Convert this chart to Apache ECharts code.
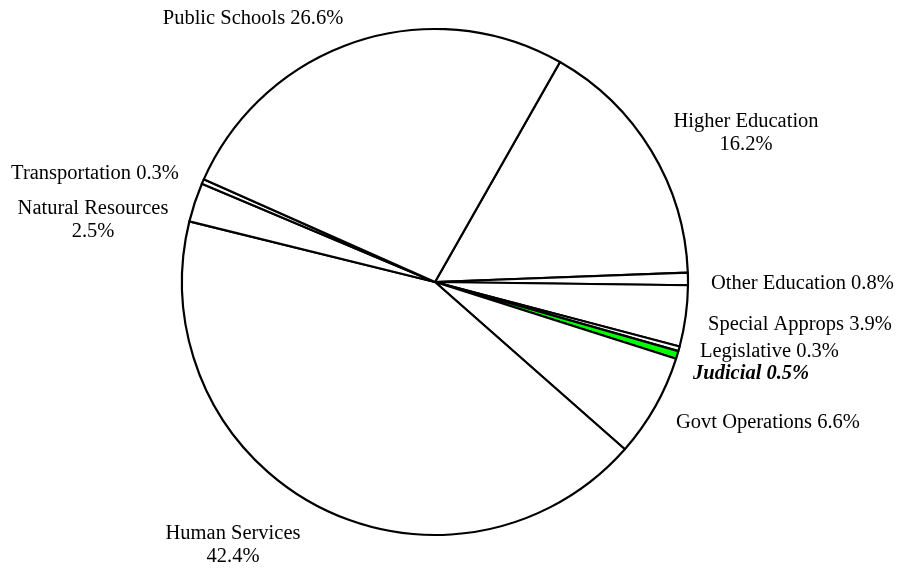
<!DOCTYPE html>
<html>
<head>
<meta charset="utf-8">
<script src="https://cdn.jsdelivr.net/npm/echarts@6/dist/echarts.min.js"></script>
<style>
  html, body { margin: 0; padding: 0; background: #ffffff; }
  #chart { width: 912px; height: 569px; }
</style>
</head>
<body>
<div id="chart"></div>
<script>
// Budget shares by area, listed clockwise starting from Higher Education
const categories = [
  'Higher Education', 'Other Education', 'Special Approps', 'Legislative',
  'Judicial', 'Govt Operations', 'Human Services', 'Natural Resources',
  'Transportation', 'Public Schools'
];
const shares = [16.2, 0.8, 3.9, 0.3, 0.5, 6.6, 42.4, 2.5, 0.3, 26.6];

// Label text lines for each slice (two-line labels are stacked)
const labelTexts = [
  'Higher Education\n16.2%', 'Other Education 0.8%', 'Special Approps 3.9%',
  'Legislative 0.3%', 'Judicial 0.5%', 'Govt Operations 6.6%',
  'Human Services\n42.4%', 'Natural Resources\n2.5%', 'Transportation 0.3%',
  'Public Schools 26.6%'
];

// Where each label sits on the page: [x, y, align]
const labelSpots = [
  [746, 133.5, 'center'],
  [711, 283.5, 'left'],
  [708, 324.5, 'left'],
  [700, 351.5, 'left'],
  [693, 373.5, 'left'],
  [676, 422.5, 'left'],
  [233, 545.5, 'center'],
  [93, 220.5, 'center'],
  [95, 173.5, 'center'],
  [253, 18.5, 'center']
];

const highlighted = 'Judicial';

const chart = echarts.init(document.getElementById('chart'), null, { renderer: 'canvas' });

const seriesData = categories.map((name, i) => {
  const isHi = name === highlighted;
  return {
    name: name,
    value: shares[i],
    itemStyle: { color: isHi ? '#00ff00' : '#ffffff' },
    label: {
      formatter: labelTexts[i],
      fontWeight: isHi ? 'bold' : 'normal',
      fontStyle: isHi ? 'italic' : 'normal'
    }
  };
});

chart.setOption({
  animation: false,
  backgroundColor: '#ffffff',
  series: [{
    type: 'pie',
    center: [435, 282],
    radius: [0, 253],
    startAngle: 60.4,
    clockwise: true,
    avoidLabelOverlap: false,
    minAngle: 0,
    itemStyle: { borderColor: '#000000', borderWidth: 2.2 },
    emphasis: { disabled: true },
    label: {
      show: true,
      position: 'outside',
      color: '#000000',
      fontFamily: 'Liberation Serif',
      fontSize: 20.5,
      lineHeight: 23
    },
    labelLine: { show: false },
    labelLayout: function (params) {
      const s = labelSpots[params.dataIndex];
      return { x: s[0], y: s[1], align: s[2], verticalAlign: 'middle' };
    },
    data: seriesData
  }]
});
</script>
</body>
</html>
